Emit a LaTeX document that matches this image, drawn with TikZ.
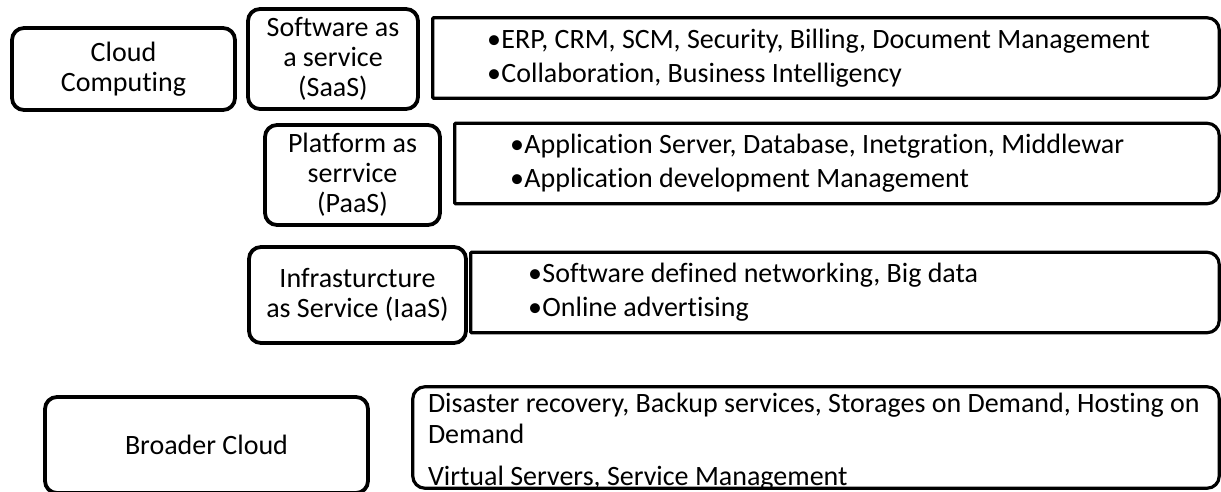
\documentclass[tikz,border=0pt]{standalone}
\usepackage{fontspec}
\setmainfont{Carlito}[Ligatures=NoCommon]
\usetikzlibrary{positioning}
\tikzset{
every node/.style={font=\fontsize{28}{30}\selectfont}, % the text of all boxes
kind/.style={draw, line width=3.8pt, rounded corners=12pt, align=center, inner sep=0pt}, % boxes on the left
list/.style={inner sep=0pt, minimum height=80pt}, % boxes that hold the items
items/.style={inner sep=0pt, align=left, font=\fontsize{28}{34}\selectfont}, % the items themselves
outline/.style={line width=3.2pt, line join=round},
}
\newcommand{\itm}{\textbullet\hspace{0.5pt}}

\begin{document}
\begin{tikzpicture}[x=1pt, y=-1pt]
  \useasboundingbox (0,0) rectangle (1221,492);

  % Kinds of service
  \node[kind, minimum width=223pt, minimum height=82pt] (cloud) at (123.5,69) {Cloud\\Computing};
  \node[kind, minimum width=170pt, minimum height=100pt] (saas) at (333,59) {Software as\\a service\\(SaaS)};
  \node[kind, minimum width=175pt, minimum height=100pt] (paas) at (352.5,175) {Platform as\\serrvice\\(PaaS)};
  \node[kind, minimum width=217pt, minimum height=96pt] (iaas) at (357.5,295) {Infrasturcture\\as Service (IaaS)};
  \node[kind, minimum width=323pt, minimum height=96pt] (broad) at (206.5,445) {Broader Cloud};

  % Boxes with the items
  \node[list, minimum width=786pt] (saasd) at (826,58) {};
  \node[list, minimum width=764pt] (paasd) at (837,163.5) {};
  \node[list, minimum width=748pt] (iaasd) at (845,292.5) {};
  \node[list, minimum width=806pt, minimum height=101pt] (broadd) at (816,437.5) {};

  \foreach \n in {saasd, paasd, iaasd}
    \draw[outline] (\n.north west) -- ([xshift=-12pt]\n.north east)
      arc[start angle=90, end angle=0, radius=12pt] -- ([yshift=12pt]\n.south east)
      arc[start angle=0, end angle=-90, radius=12pt] -- (\n.south west) -- cycle;
  \draw[outline, rounded corners=12pt] (broadd.north west) rectangle (broadd.south east);

  % Items
  \node[items, anchor=west, right=54pt of saasd.west] (saasi)
    {\itm ERP, CRM, SCM, Security, Billing, Document Management\\
     \itm Collaboration, Business Intelligency};
  \node[items, anchor=west, right=55pt of paasd.west] (paasi)
    {\itm Application Server, Database, Inetgration, Middlewar\\
     \itm Application development Management};
  \node[items, anchor=west, right=57pt of iaasd.west] (iaasi)
    {\itm Software defined networking, Big data\\
     \itm Online advertising};
  \node[items, anchor=west, right=15pt of broadd.west, yshift=-4pt, font=\fontsize{28}{31}\selectfont] (broadi)
    {Disaster recovery, Backup services, Storages on Demand, Hosting on\\
     Demand\\[11pt]
     Virtual Servers, Service Management};
\end{tikzpicture}
\end{document}
